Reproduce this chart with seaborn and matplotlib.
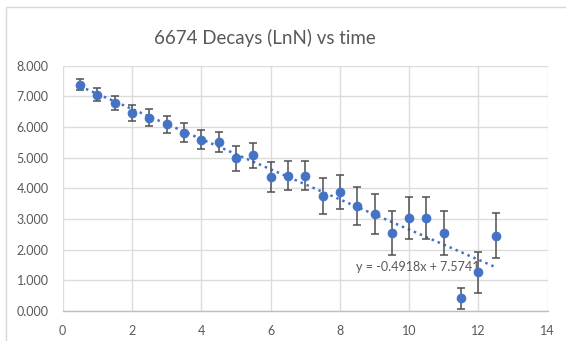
import numpy as np
import pandas as pd
import matplotlib
matplotlib.use("Agg")
import matplotlib.pyplot as plt
from matplotlib.patches import Rectangle
import seaborn as sns

# Data
time = [0.5, 1.0, 1.5, 2.0, 2.5, 3.0, 3.5, 4.0, 4.5, 5.0, 5.5, 6.0, 6.5,
        7.0, 7.5, 8.0, 8.5, 9.0, 9.5, 10.0, 10.5, 11.0, 11.5, 12.0, 12.5]
ln_n = [7.38, 7.06, 6.79, 6.47, 6.30, 6.09, 5.81, 5.59, 5.51, 4.98, 5.08, 4.36, 4.41,
        4.41, 3.75, 3.88, 3.41, 3.15, 2.54, 3.03, 3.03, 2.54, 0.41, 1.26, 2.45]
err = [0.18, 0.20, 0.23, 0.26, 0.28, 0.28, 0.31, 0.32, 0.34, 0.40, 0.40, 0.49, 0.48,
       0.48, 0.58, 0.55, 0.62, 0.65, 0.72, 0.68, 0.68, 0.72, 0.33, 0.67, 0.73]
trend_slope = -0.4918
trend_intercept = 7.5741
title = "6674 Decays (LnN) vs time"
trend_label = "y = -0.4918x + 7.5741"
xticks = [0, 2, 4, 6, 8, 10, 12, 14]
yticks = [0, 1, 2, 3, 4, 5, 6, 7, 8]

df = pd.DataFrame({"time": time, "lnN": ln_n, "err": err})

sns.set_theme(style="white")
plt.rcParams["font.family"] = ["Lato", "DejaVu Sans"]

fig = plt.figure(figsize=(5.66, 3.41), dpi=100)
ax = fig.add_axes([0.1108, 0.088, 0.9677 - 0.1108, 0.8073 - 0.088])

blue = "#4472C4"
gray_text = "#595959"

# trendline
tx = np.array([min(time), max(time)])
ty = trend_slope * tx + trend_intercept
ax.plot(tx, ty, linestyle=(0, (1, 1.6)), color=blue, lw=1.8, zorder=2)

# error bars
ax.errorbar(df["time"], df["lnN"], yerr=df["err"], fmt="none",
            ecolor="#505050", elinewidth=1.1, capsize=3.2, capthick=1.1, zorder=3)

sns.scatterplot(data=df, x="time", y="lnN", ax=ax, color=blue, s=42,
                edgecolor=blue, linewidth=0.5, zorder=4, legend=False)

ax.set_xlim(0, 14)
ax.set_ylim(0, 8)
ax.set_xticks(xticks)
ax.set_yticks(yticks)
ax.set_yticklabels([f"{v:.3f}" for v in yticks])
ax.set_xlabel("")
ax.set_ylabel("")
ax.grid(True, color="#dcdcdc", lw=1.0)
ax.set_axisbelow(True)
for s in ["top", "right", "left"]:
    ax.spines[s].set_visible(False)
ax.spines["bottom"].set_color("#bfbfbf")
ax.spines["bottom"].set_linewidth(1.0)
ax.tick_params(axis="both", length=0, labelsize=9, colors=gray_text)
ax.tick_params(axis="y", pad=10)
ax.tick_params(axis="x", pad=10)

ax.text(8.47, 1.43, trend_label, fontsize=9, color=gray_text, va="center", ha="left")

fig.text(265 / 566, 1 - 38 / 341, title, ha="center", va="center",
         fontsize=13.5, color=gray_text)

# chart border
fig.patches.append(Rectangle((6 / 566, -0.1), 1.2, 1 - 7 / 341 + 0.1,
                             transform=fig.transFigure, fill=False,
                             edgecolor="#d9d9d9", lw=1.0))

fig.savefig("out.png", dpi=100)
